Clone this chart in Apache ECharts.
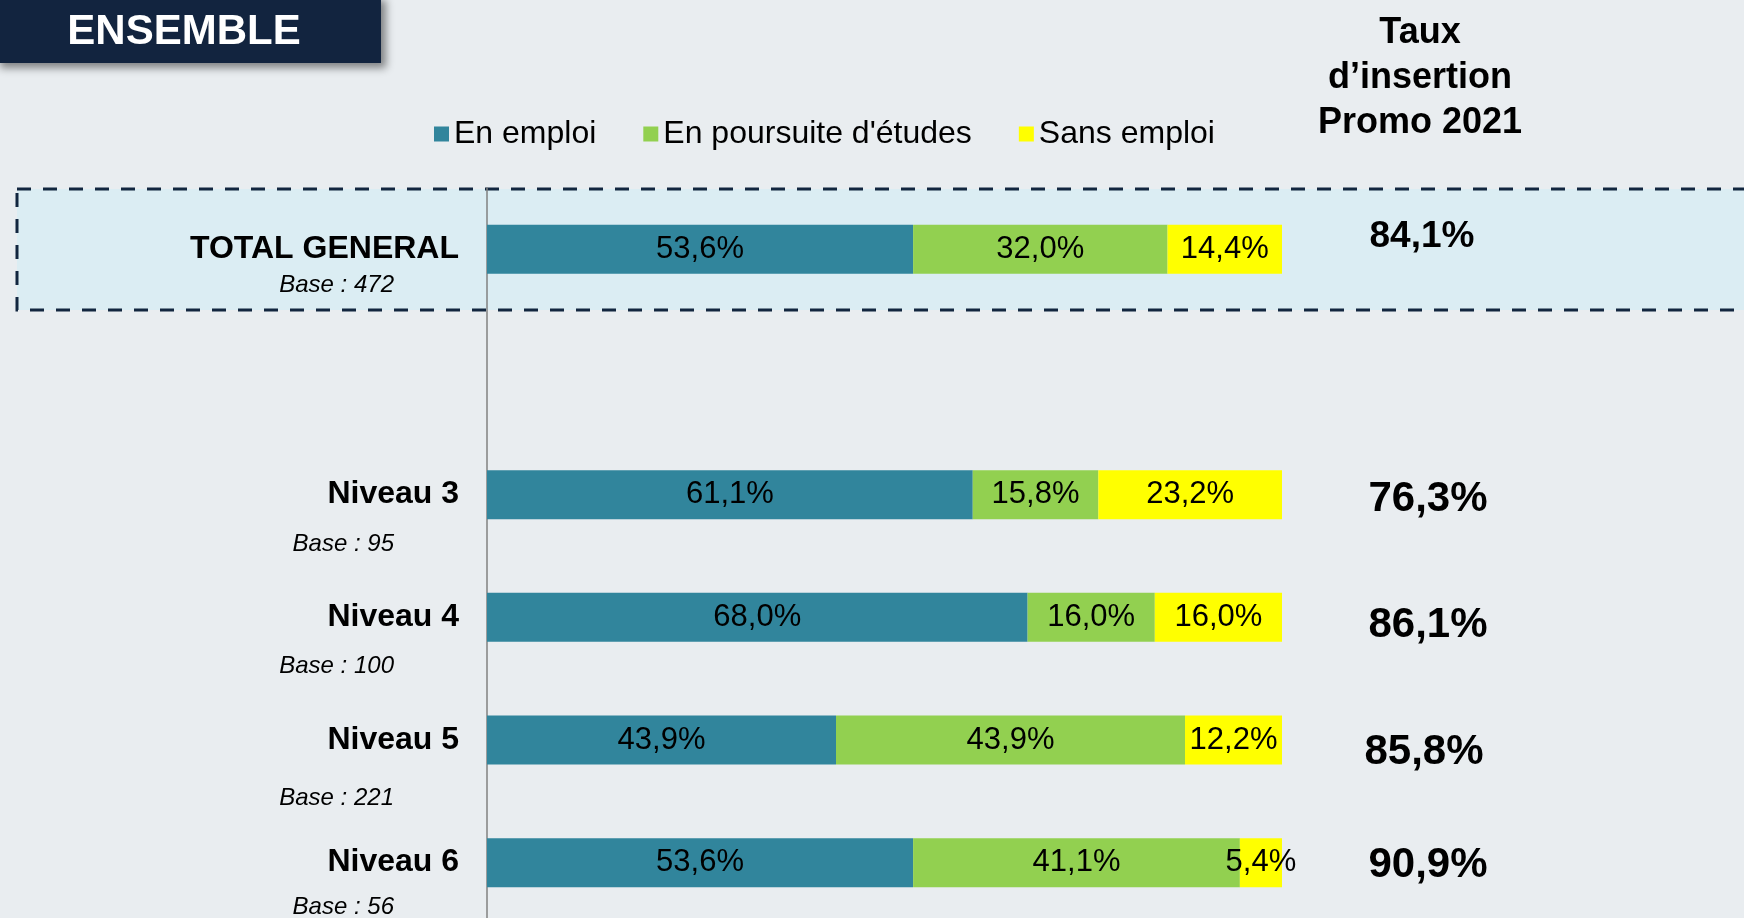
<!DOCTYPE html>
<html>
<head>
<meta charset="utf-8">
<script src="https://cdn.jsdelivr.net/npm/echarts@6/dist/echarts.min.js"></script>
<style>
  html, body { margin: 0; padding: 0; background: #e9edf0; }
  #chart { width: 1744px; height: 918px; }
</style>
</head>
<body>
<div id="chart"></div>
<script>
// données
var categories = ['TOTAL GENERAL', '', 'Niveau 3', 'Niveau 4', 'Niveau 5', 'Niveau 6']
var bases = ['Base : 472', '', 'Base : 95', 'Base : 100', 'Base : 221', 'Base : 56']
var enEmploi = [53.6, null, 61.1, 68.0, 43.9, 53.6]
var enPoursuite = [32.0, null, 15.8, 16.0, 43.9, 41.1]
var sansEmploi = [14.4, null, 23.2, 16.0, 12.2, 5.4]
var tauxInsertion = ['84,1%', '', '76,3%', '86,1%', '85,8%', '90,9%']
var seriesNames = ['En emploi', "En poursuite d'études", 'Sans emploi']

// mise en page
var colors = ['#31859c', '#92d050', '#ffff00']
var font = '"Liberation Sans", Arial, sans-serif'
var baseDy = [36, 0, 50, 49, 58, 45]
var tauxDy = [-13, 0, 5, 8, 12, 3]
var tauxX = [1422, 0, 1428, 1428, 1424, 1428]

var chart = echarts.init(document.getElementById('chart'))

function pct (p) {
  return p.value.toFixed(1).replace('.', ',') + '%'
}

var labelOption = {
  show: true,
  position: 'inside',
  color: '#000',
  fontSize: 31,
  fontFamily: font,
  textBorderWidth: 0,
  formatter: pct
}

var seriesData = [enEmploi, enPoursuite, sansEmploi]
var series = []
for (let i = 0; i < seriesNames.length; i++) {
  series.push({
    name: seriesNames[i],
    type: 'bar',
    stack: 'total',
    barWidth: 49,
    itemStyle: { color: colors[i] },
    label: labelOption,
    data: seriesData[i]
  })
}

chart.setOption({
  backgroundColor: '#e9edf0',
  animation: false,
  legend: {
    left: 429,
    top: 113,
    icon: 'rect',
    itemWidth: 15,
    itemHeight: 15,
    itemGap: 47,
    itemTextGap: 9,
    textStyle: { fontSize: 32, color: '#000', fontFamily: font },
    data: seriesNames
  },
  grid: { left: 487, right: 462, top: 188, height: 736, outerBoundsMode: 'none', containLabel: false },
  xAxis: { type: 'value', min: 0, max: 100, show: false },
  yAxis: {
    type: 'category',
    inverse: true,
    data: categories,
    axisTick: { show: false },
    axisLine: { show: true, lineStyle: { color: '#808080', width: 1.5 } },
    splitLine: { show: false },
    axisLabel: {
      margin: 28,
      formatter: function (v, i) {
        return i === 0 ? '{t|' + v + '}' : '{n|' + v + '}'
      },
      rich: {
        t: { fontSize: 32, fontWeight: 'bold', color: '#000', fontFamily: font },
        n: { fontSize: 32, fontWeight: 'bold', color: '#000', fontFamily: font }
      }
    }
  },
  series: series
})

// annotations : cadre, bases, taux
var elements = [
  {
    type: 'rect',
    z: -10,
    silent: true,
    shape: { x: 17, y: 189, width: 1760, height: 121 },
    style: { fill: '#dbedf3', stroke: '#12263f', lineWidth: 3, lineDash: [14, 12] }
  },
  {
    type: 'rect',
    z: 10,
    shape: { x: -5, y: -5, width: 386, height: 68 },
    style: {
      fill: '#12243f',
      shadowBlur: 8,
      shadowOffsetX: 5,
      shadowOffsetY: 5,
      shadowColor: 'rgba(0,0,0,0.45)'
    }
  },
  {
    type: 'text',
    z: 11,
    x: 184,
    y: 32,
    style: {
      text: 'ENSEMBLE',
      fill: '#fff',
      font: 'bold 42px ' + font,
      align: 'center',
      verticalAlign: 'middle'
    }
  },
  {
    type: 'text',
    x: 1420,
    y: 11,
    style: {
      text: 'Taux\nd’insertion\nPromo 2021',
      fill: '#000',
      font: 'bold 36px ' + font,
      align: 'center',
      lineHeight: 45
    }
  }
]

for (let i = 0; i < categories.length; i++) {
  if (!categories[i]) continue
  let y = chart.convertToPixel({ yAxisIndex: 0 }, i)
  elements.push({
    type: 'text',
    x: 394,
    y: y + baseDy[i],
    style: {
      text: bases[i],
      fill: '#000',
      font: 'italic 24px ' + font,
      align: 'right',
      verticalAlign: 'middle'
    }
  })
  elements.push({
    type: 'text',
    x: tauxX[i],
    y: y + tauxDy[i],
    style: {
      text: tauxInsertion[i],
      fill: '#000',
      font: 'bold ' + (i === 0 ? 37 : 42) + 'px ' + font,
      align: 'center',
      verticalAlign: 'middle'
    }
  })
}

chart.setOption({ graphic: { elements: elements } })
</script>
</body>
</html>
